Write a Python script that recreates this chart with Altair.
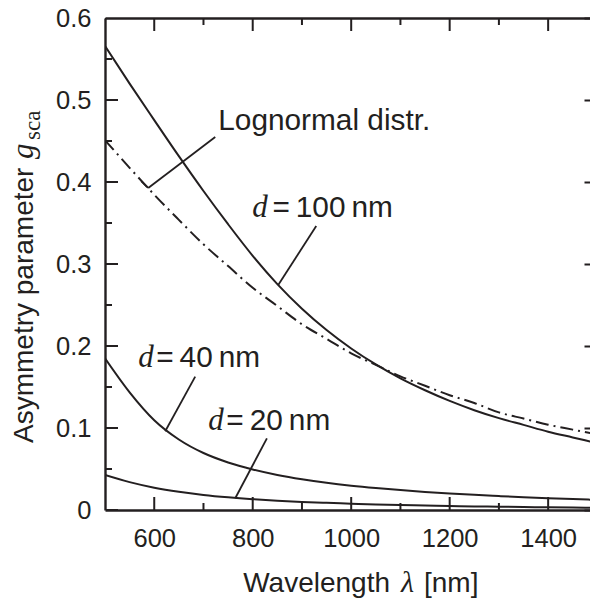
import altair as alt
import pandas as pd

# ---------------- data ----------------
wavelength = [500, 550, 600, 650, 700, 750, 800, 850, 900, 950, 1000,
              1050, 1100, 1150, 1200, 1250, 1300, 1350, 1400, 1450, 1500]
g_d100 = [0.566, 0.520, 0.4755, 0.4315, 0.389, 0.3485, 0.310, 0.2755, 0.2455, 0.2195, 0.197,
          0.1775, 0.1605, 0.146, 0.133, 0.1217, 0.112, 0.1038, 0.0955, 0.0885, 0.0815]
g_lognormal = [0.451, 0.4173, 0.3845, 0.3538, 0.324, 0.2975, 0.271, 0.2488, 0.2265, 0.2088, 0.191,
               0.177, 0.163, 0.1515, 0.140, 0.1305, 0.119, 0.1115, 0.104, 0.098, 0.092]
g_d40 = [0.185, 0.1435, 0.1095, 0.0860, 0.0695, 0.0580, 0.0495, 0.0428, 0.0375, 0.0332, 0.0297,
         0.0268, 0.0243, 0.0221, 0.0202, 0.0185, 0.0170, 0.0156, 0.0144, 0.0133, 0.0123]
g_d20 = [0.0427, 0.0340, 0.0272, 0.0222, 0.0184, 0.0155, 0.0132, 0.0114, 0.0099, 0.0087, 0.0077,
         0.0068, 0.0061, 0.0055, 0.0049, 0.0044, 0.0040, 0.0036, 0.0033, 0.0030, 0.0027]

x_label_values = [600, 800, 1000, 1200, 1400]
x_minor_values = [700, 900, 1100, 1300]
y_label_values = [0, 0.1, 0.2, 0.3, 0.4, 0.5, 0.6]
y_minor_values = [0.05, 0.15, 0.25, 0.35, 0.45, 0.55]

# annotations (data coordinates)
ann_sans_text = ["Lognormal distr.", "=\u2009100\u2009nm", "=\u200940\u2009nm", "=\u200920\u2009nm"]
ann_sans_x = [730, 840, 604, 746.5]
ann_sans_y = [0.4634, 0.3573, 0.1748, 0.0976]
ann_d_x = [799, 567.5, 709.6]
ann_d_y = [0.3573, 0.1748, 0.0976]
lead_x = [723.9, 587.8, 929.0, 683.2, 828.8]
lead_y = [0.4549, 0.3927, 0.3463, 0.1626, 0.0874]
lead_x2 = [587.8, 573.6, 851.8, 622.3, 764.5]
lead_y2 = [0.3927, 0.4012, 0.2744, 0.0961, 0.0143]

INK = "#231f20"
SANS = "Liberation Sans"
SERIF = "Liberation Serif"
W, H = 485, 492
X0, X1 = 500, 1485
Y0, Y1 = 0.0, 0.6
PX_X = (X1 - X0) / W   # data units per pixel
PX_Y = (Y1 - Y0) / H
MAJOR, MINOR = 13, 7   # inward tick lengths in px

# ---------------- tables ----------------
rows = []
for name, vals in [("d100", g_d100), ("d40", g_d40), ("d20", g_d20)]:
    for w, v in zip(wavelength, vals):
        rows.append({"wl": w, "g": v, "series": name})
solid = pd.DataFrame(rows)
logn = pd.DataFrame({"wl": wavelength, "g": g_lognormal})
ann_sans = pd.DataFrame({"x": ann_sans_x, "y": ann_sans_y, "t": ann_sans_text})
ann_d = pd.DataFrame({"x": ann_d_x, "y": ann_d_y, "t": ["d"] * len(ann_d_x)})
leads = pd.DataFrame({"x": lead_x, "y": lead_y, "x2": lead_x2, "y2": lead_y2})
one = pd.DataFrame({"k": [0]})

# inward frame ticks as two-point paths, built from the tick lists
tick_rows = []
k = 0
for vals, L in [(x_label_values, MAJOR), (x_minor_values, MINOR)]:
    for v in vals:
        for base, sgn in [(Y0, 1), (Y1, -1)]:
            tick_rows += [{"id": k, "o": 0, "tx": v, "ty": base},
                          {"id": k, "o": 1, "tx": v, "ty": base + sgn * L * PX_Y}]
            k += 1
for vals, L in [(y_label_values, MAJOR), (y_minor_values, MINOR)]:
    for v in vals:
        tick_rows += [{"id": k, "o": 0, "tx": X0, "ty": v},
                      {"id": k, "o": 1, "tx": X0 + L * PX_X, "ty": v}]
        k += 1
ticks = pd.DataFrame(tick_rows)

xs = alt.Scale(domain=[X0, X1], nice=False, zero=False)
ys = alt.Scale(domain=[Y0, Y1], nice=False, zero=False)


def ax(**kw):
    base = dict(title=None, labels=False, ticks=False, domain=False, grid=False)
    base.update(kw)
    return alt.Axis(**base)


x_main = ax(orient="bottom", values=x_label_values, labels=True, domain=True,
            domainColor=INK, domainWidth=2.4, labelFont=SANS, labelFontSize=25.5,
            labelColor=INK, labelPadding=16, tickSize=0, labelOverlap=False,
            labelFlush=False, format="d")
y_main = ax(orient="left", values=y_label_values, labels=True, domain=True,
            domainColor=INK, domainWidth=2.4, labelFont=SANS, labelFontSize=25.5,
            labelColor=INK, labelPadding=14, tickSize=0, labelOverlap=False,
            labelExpr="datum.value == 0 ? '0' : format(datum.value, '.1f')")

solid_layer = alt.Chart(solid).mark_line(color=INK, strokeWidth=2, clip=True,
                                         interpolate="monotone").encode(
    x=alt.X("wl:Q", scale=xs, axis=x_main),
    y=alt.Y("g:Q", scale=ys, axis=y_main),
    detail="series:N",
)

logn_layer = alt.Chart(logn).mark_line(color=INK, strokeWidth=2, clip=True,
                                       strokeDash=[13, 5, 2, 5],
                                       interpolate="monotone").encode(
    x=alt.X("wl:Q", scale=xs, axis=None),
    y=alt.Y("g:Q", scale=ys, axis=None),
)

# top frame line and the right-hand ticks (right axis lies just outside the window)
frame_layer = alt.Chart(logn).mark_line(strokeOpacity=0, clip=True).encode(
    x=alt.X("wl:Q", scale=xs, axis=ax(orient="top", domain=True, domainColor=INK,
                                      domainWidth=2.4)),
    y=alt.Y("g:Q", scale=ys, axis=ax(orient="right", values=y_label_values, ticks=True,
                                     tickSize=6, offset=-6, tickColor=INK, tickWidth=2)),
)

tick_layer = alt.Chart(ticks).mark_line(color=INK, strokeWidth=2, clip=True).encode(
    x=alt.X("tx:Q", scale=xs, axis=None),
    y=alt.Y("ty:Q", scale=ys, axis=None),
    detail="id:N",
    order="o:Q",
)

lead_layer = alt.Chart(leads).mark_rule(color=INK, strokeWidth=1.8).encode(
    x=alt.X("x:Q", scale=xs, axis=None),
    y=alt.Y("y:Q", scale=ys, axis=None),
    x2="x2:Q",
    y2="y2:Q",
)

sans_layer = alt.Chart(ann_sans).mark_text(font=SANS, fontSize=29.8, color=INK,
                                           align="left", baseline="alphabetic").encode(
    x=alt.X("x:Q", scale=xs, axis=None),
    y=alt.Y("y:Q", scale=ys, axis=None),
    text="t:N",
)
d_layer = alt.Chart(ann_d).mark_text(font=SERIF, fontSize=31, fontStyle="italic",
                                     color=INK, align="left",
                                     baseline="alphabetic").encode(
    x=alt.X("x:Q", scale=xs, axis=None),
    y=alt.Y("y:Q", scale=ys, axis=None),
    text="t:N",
)


def title_piece(text, x, y, font, size, style="normal", align="left", angle=0):
    return alt.Chart(one).mark_text(text=text, font=font, fontSize=size,
                                    fontStyle=style, color=INK, align=align,
                                    baseline="alphabetic", angle=angle).encode(
        x=alt.value(x), y=alt.value(y))


titles = [
    title_piece("Wavelength", 285, 574, SANS, 28, align="right"),
    title_piece("\u03bb", 296, 574, SERIF, 30, style="italic"),
    title_piece("[nm]", 319, 574, SANS, 28),
    title_piece("Asymmetry parameter", -72, 425, SANS, 28, angle=270),
    title_piece("g", -72, 141, SERIF, 31, style="italic", angle=270),
    title_piece("sca", -65, 122, SERIF, 23, angle=270),
]

chart = alt.layer(
    solid_layer, logn_layer, frame_layer, tick_layer, lead_layer, sans_layer,
    d_layer, *titles
).resolve_axis(x="independent", y="independent").properties(
    width=W, height=H,
    padding={"left": 105, "top": 18, "right": 0, "bottom": 96},
    autosize=alt.AutoSizeParams(type="none"),
    background="white",
).configure_view(stroke=None)

chart.save("out.html", embed_options={"renderer": "svg", "actions": False})
